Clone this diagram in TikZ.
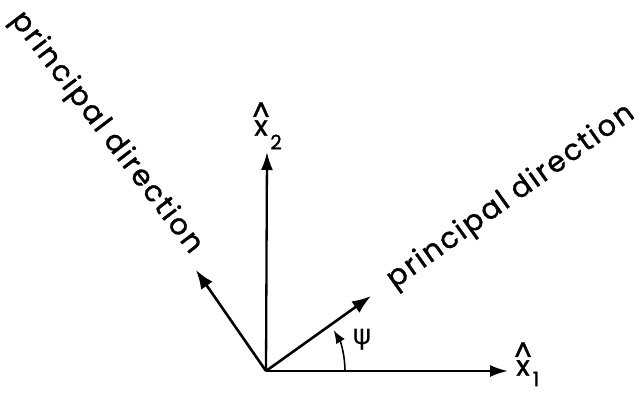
\documentclass[tikz,border=0pt]{standalone}
\usepackage{fontspec}
\setmainfont{Poppins}
\newfontfamily\labfont{Poppins}[FakeBold=1.2]
\newfontfamily\txtfont{Poppins}[FakeBold=1.2,LetterSpace=7]
\newfontfamily\symfont{DejaVu Sans}
\usetikzlibrary{arrows.meta}
\begin{document}
\begin{tikzpicture}[x=1pt,y=1pt,
  vec/.style={line width=2.6pt,-{Latex[length=19pt,width=14pt]}},
  axis/.style={line width=2.3pt,-{Latex[length=18pt,width=12pt]}},
  lbl/.style={font=\fontsize{29}{34}\txtfont,inner sep=0pt},
  sym/.style={font=\fontsize{28}{32}\labfont,inner sep=0pt},
  sub/.style={font=\fontsize{20}{24}\labfont,inner sep=0pt}]
\useasboundingbox (0,0) rectangle (642,392);
\coordinate (O) at (266,21);
\coordinate (X1) at (508,21);
\coordinate (X2) at (267,240);
\coordinate (P1) at (371,96);
\coordinate (P2) at (196,122);
\draw[axis] (O) -- (X1);
\draw[axis] (O) -- (X2);
\draw[vec] (O) -- (P1);
\draw[vec] (O) -- (P2);
\draw[line width=1.6pt,-{Latex[length=13pt,width=10pt]}] ([shift={(0:79)}]O) arc[start angle=0,end angle=31,radius=79];
% x1 label
\node[sym] (x1) at (523,24) {x};
\node[sym] (h1) at (523,40) {\^{}};
\node[sub] (s1) at (536,13) {1};
% x2 label
\node[sym] (x2) at (261,264) {x};
\node[sym] (h2) at (261,280) {\^{}};
\node[sub] (s2) at (276,250) {2};
\node[inner sep=0pt,font=\fontsize{28}{32}\symfont] (psi) at (362,52) {ψ};
\node[lbl,rotate=35.5] (t1) at (511,195) {principal\hspace{0.3em}direction};
\node[lbl,rotate=-52.5] (t2) at (106,259) {principal\hspace{0.3em}direction};
\end{tikzpicture}
\end{document}
